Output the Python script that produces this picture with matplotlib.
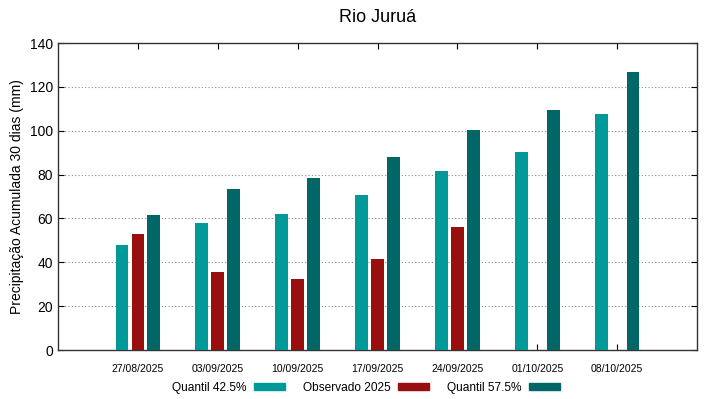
import numpy as np
import matplotlib.pyplot as plt
from matplotlib.patches import Patch

plt.rcParams['font.family'] = ['Liberation Sans', 'DejaVu Sans']

datas = ['27/08/2025', '03/09/2025', '10/09/2025', '17/09/2025',
         '24/09/2025', '01/10/2025', '08/10/2025']
q425 = [47.7, 58.0, 62.1, 70.6, 81.5, 90.5, 107.7]
obs = [52.8, 35.7, 32.5, 41.3, 56.2, np.nan, np.nan]
q575 = [61.6, 73.2, 78.3, 88.1, 100.5, 109.6, 126.6]

cor1 = '#009999'
cor2 = '#990f0f'
cor3 = '#006666'

fig = plt.figure(figsize=(7.19, 3.99), dpi=100)
ax = fig.add_axes([0.0807, 0.1228, 0.8887, 0.7694])

x = np.arange(1, len(datas) + 1)
w = 0.16
ax.bar(x - 0.2, q425, w, color=cor1, zorder=3)
ax.bar(x, obs, w, color=cor2, zorder=3)
ax.bar(x + 0.2, q575, w, color=cor3, zorder=3)

ax.set_xlim(0, 8)
ax.set_ylim(0, 140)
ax.set_xticks(x)
ax.set_xticklabels(datas, fontsize=7.5)
ax.set_yticks(np.arange(0, 141, 20))
ax.tick_params(axis='y', labelsize=10)
ax.tick_params(direction='in', top=True, right=True, length=4, width=0.8)
ax.tick_params(axis='x', pad=10)
for y in range(20, 140, 20):
    ax.axhline(y, color='#888888', lw=0.8, ls=(0, (1, 2)), zorder=1)
for s in ax.spines.values():
    s.set_color('#333333')
    s.set_linewidth(1)

ax.set_ylabel('Precipitação Acumulada 30 dias (mm)', fontsize=10, labelpad=4)
ax.set_title('Rio Juruá', fontsize=13, pad=15)

handles = [Patch(color=cor1), Patch(color=cor2), Patch(color=cor3)]
fig.legend(handles, ['Quantil 42.5%', 'Observado 2025', 'Quantil 57.5%'],
           loc='center', bbox_to_anchor=(0.509, 0.028), ncol=3, frameon=False,
           markerfirst=False, fontsize=8.6, handlelength=2.6, handleheight=0.45,
           handletextpad=0.6, columnspacing=1.5)

fig.savefig('out.png', dpi=100)
